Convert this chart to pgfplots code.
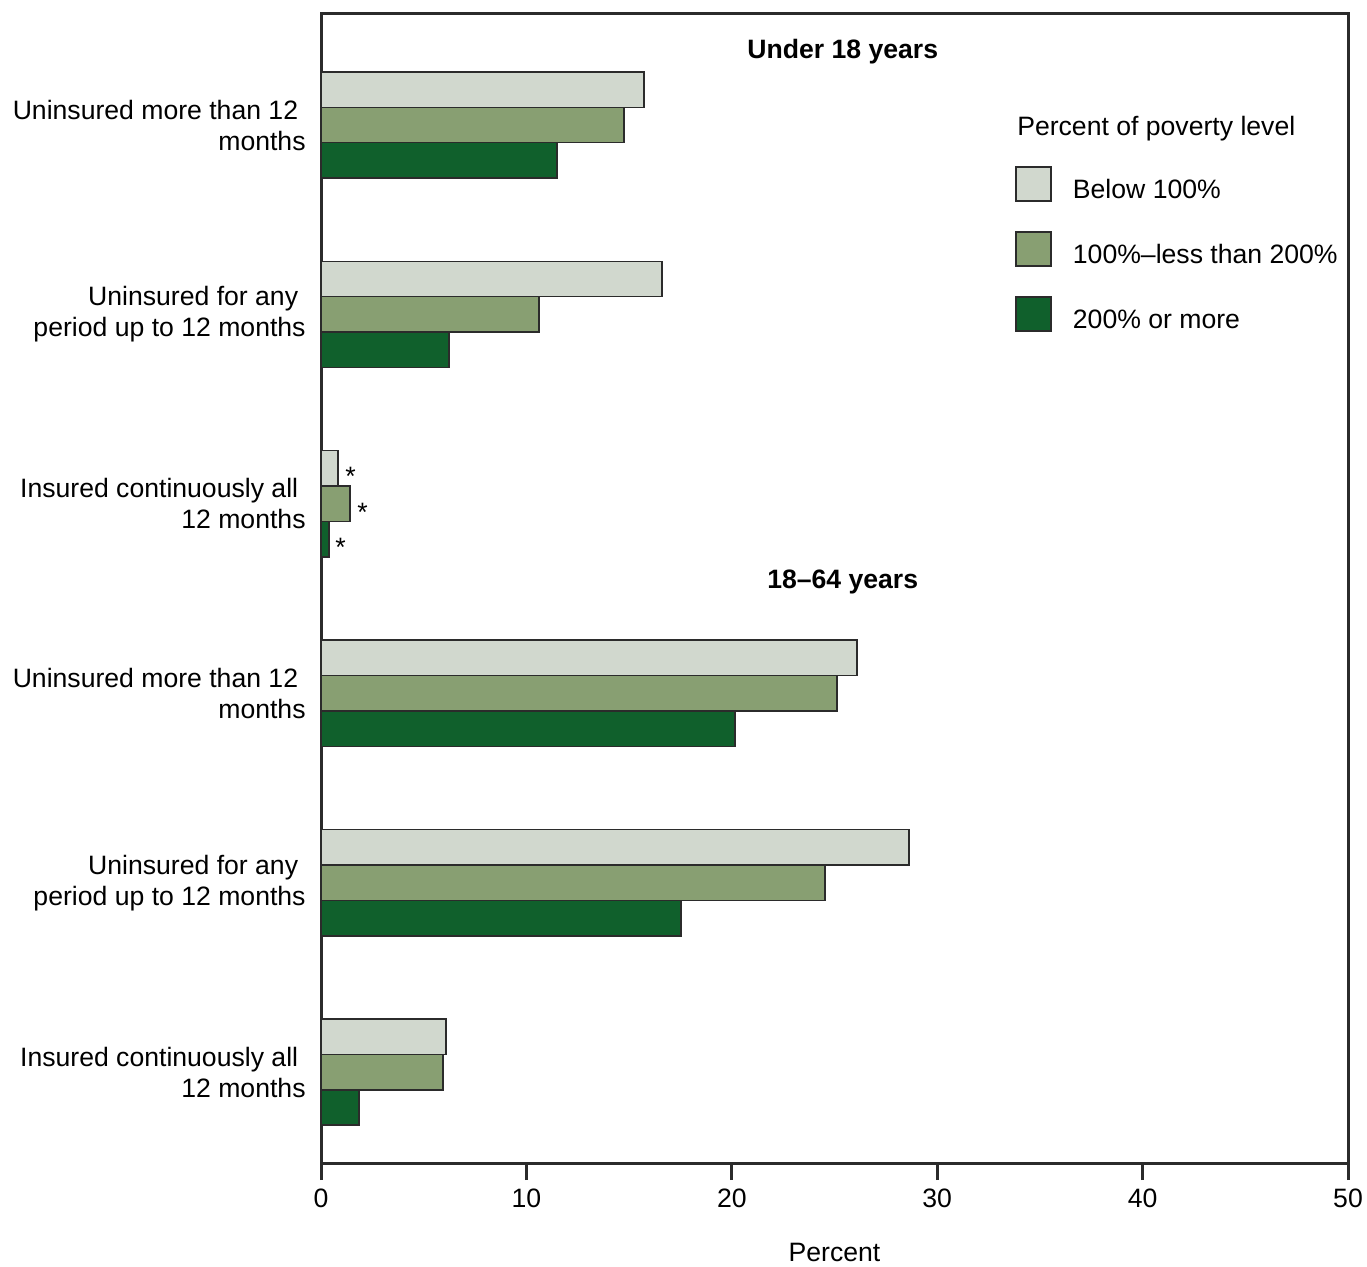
\documentclass[border=0pt]{standalone}
\usepackage{pgfplots}
\pgfplotsset{compat=1.18}
\usepackage{fontspec}
\setmainfont{Liberation Sans}
\definecolor{cLight}{HTML}{D1D8CE}
\definecolor{cMid}{HTML}{889F72}
\definecolor{cDark}{HTML}{10602C}
\definecolor{cLine}{HTML}{2B2B2B}
\begin{document}
\fontsize{13.3}{15.5}\selectfont
\begin{tikzpicture}
\begin{axis}[
  scale only axis, width=513.5pt, height=574.5pt,
  xbar, bar width=0.187,
  xmin=0, xmax=50, ymin=0.52, ymax=6.586,
  axis line style={cLine, line width=1.5pt},
  xtick={0,10,20,30,40,50},
  tick align=outside,
  major tick length=8.5pt,
  xtick style={cLine, line width=1.5pt},
  xtick pos=bottom,
  ytick={1,2,3,4,5,6},
  ytick style={draw=none},
  yticklabels={{Insured continuously all\hspace*{.28em}\\12 months},
               {Uninsured for any\hspace*{.28em}\\period up to 12 months},
               {Uninsured more than 12\hspace*{.28em}\\months},
               {Insured continuously all\hspace*{.28em}\\12 months},
               {Uninsured for any\hspace*{.28em}\\period up to 12 months},
               {Uninsured more than 12\hspace*{.28em}\\months}},
  yticklabel style={align=right, inner sep=0pt, xshift=1pt},
  /pgf/number format/assume math mode=true,
  xlabel={Percent},
  xlabel style={inner sep=0pt, yshift=-12.9pt},
  clip=false,
  legend style={at={(axis cs:33.79,5.784)}, anchor=north west, draw=none, fill=none,
    inner sep=0pt, row sep=12.45pt, legend cell align=left,
    /tikz/every odd column/.append style={column sep=8.5pt}},
  legend image code/.code={\draw[#1] (0pt,-5.1pt) rectangle (17.5pt,11.9pt);},
]
\addplot[fill=cLight, draw=cLine, line width=0.75pt, bar shift=0.187] coordinates
  {(6.09,1) (28.63,2) (26.10,3) (0.83,4) (16.60,5) (15.73,6)};
\addplot[fill=cMid, draw=cLine, line width=0.75pt, bar shift=0] coordinates
  {(5.94,1) (24.54,2) (25.12,3) (1.41,4) (10.61,5) (14.75,6)};
\addplot[fill=cDark, draw=cLine, line width=0.75pt, bar shift=-0.187] coordinates
  {(1.85,1) (17.53,2) (20.16,3) (0.39,4) (6.23,5) (11.49,6)};
\legend{Below 100\%, 100\%--less than 200\%, 200\% or more}
\node[font=\bfseries] at (axis cs:25.4,6.386) {Under 18 years};
\node[font=\bfseries] at (axis cs:25.4,3.588) {18--64 years};
\node[anchor=base west, inner sep=0pt] at (axis cs:33.88,5.947) {Percent of poverty level};
\node[anchor=base west, inner sep=0pt, xshift=3.5pt, yshift=-8.7pt] at (axis cs:0.83,4.187) {*};
\node[anchor=base west, inner sep=0pt, xshift=3.5pt, yshift=-8.7pt] at (axis cs:1.41,4) {*};
\node[anchor=base west, inner sep=0pt, xshift=3pt, yshift=-8.7pt] at (axis cs:0.39,3.813) {*};
\end{axis}
\pgfresetboundingbox
\path ([xshift=-160.5pt,yshift=-51.5pt]current axis.south west) rectangle ([xshift=9.5pt,yshift=7pt]current axis.north east);
\end{tikzpicture}
\end{document}
